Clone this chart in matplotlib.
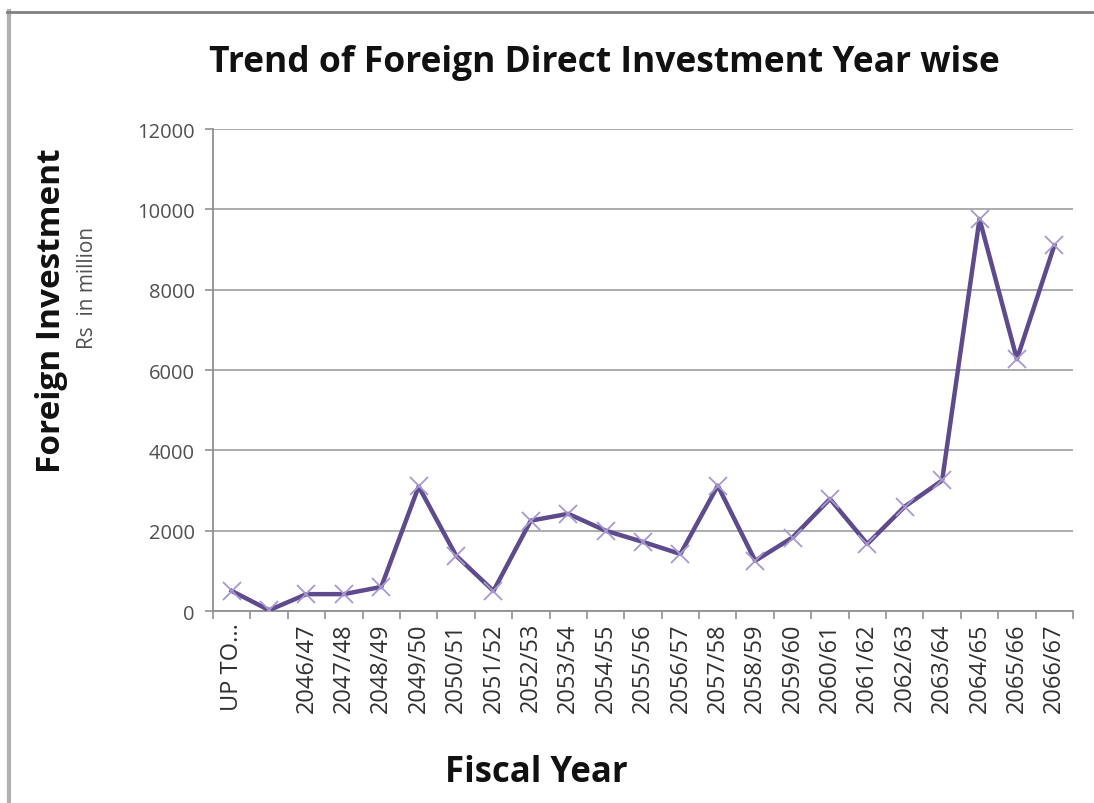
import matplotlib.pyplot as plt
from matplotlib.lines import Line2D

# Fiscal years and FDI (Rs in million)
fiscal_years = ["UP TO...", "", "2046/47", "2047/48", "2048/49", "2049/50",
                "2050/51", "2051/52", "2052/53", "2053/54", "2054/55",
                "2055/56", "2056/57", "2057/58", "2058/59", "2059/60",
                "2060/61", "2061/62", "2062/63", "2063/64", "2064/65",
                "2065/66", "2066/67"]
fdi_values = [500, 20, 420, 420, 600, 3100, 1380, 500, 2250, 2420, 2000,
              1720, 1420, 3120, 1250, 1830, 2790, 1670, 2600, 3250, 9760,
              6270, 9100]
y_ticks = [0, 2000, 4000, 6000, 8000, 10000, 12000]

fig = plt.figure(figsize=(10.94, 8.04), dpi=100)
ax = fig.add_axes([0.1947, 0.2388, 0.7861, 0.5995])

x = list(range(len(fiscal_years)))
ax.plot(x, fdi_values, color="#5e4a8c", linewidth=3.2, zorder=3)
ax.plot(x, fdi_values, linestyle="none", marker="x", markersize=13,
        markeredgewidth=1.3, color="#a898d0", zorder=4)

ax.set_xlim(-0.5, len(fiscal_years) - 0.5)
ax.set_ylim(0, 12000)
ax.set_yticks(y_ticks)
ax.set_yticklabels([str(v) for v in y_ticks], fontsize=14.5, color="#505050",
                   family="Open Sans")
ax.yaxis.grid(True, color="#a6a6a6", linewidth=1.3)
ax.set_axisbelow(True)

# category labels in the middle, tick marks between categories
ax.set_xticks([i - 0.5 for i in range(len(fiscal_years) + 1)])
ax.set_xticklabels([])
ax.set_xticks(x, minor=True)
ax.set_xticklabels(fiscal_years, minor=True, rotation=90, fontsize=17,
                   color="#303030", family="Open Sans")
ax.tick_params(axis="x", which="major", length=6, color="#909090", width=1.2)
ax.tick_params(axis="x", which="minor", length=0, pad=8)
ax.tick_params(axis="y", length=6, color="#909090", width=1.2, pad=7)

for side in ["top", "right"]:
    ax.spines[side].set_visible(False)
for side in ["left", "bottom"]:
    ax.spines[side].set_color("#909090")
    ax.spines[side].set_linewidth(1.3)

fig.text(0.552, 0.922, "Trend of Foreign Direct Investment Year wise",
         ha="center", va="center", fontsize=25.5, fontweight="bold",
         fontstretch="condensed", family="Open Sans", color="#111111")
fig.text(0.047, 0.614, "Foreign Investment", rotation=90, ha="center",
         va="center", fontsize=24, fontweight="bold",
         fontstretch="condensed", family="Open Sans", color="#111111")
fig.text(0.080, 0.642, "Rs  in million", rotation=90, ha="center",
         va="center", fontsize=15, color="#505050", family="Open Sans")
fig.text(0.49, 0.038, "Fiscal Year", ha="center", va="center",
         fontsize=25, fontweight="bold", family="Open Sans", color="#111111")

# frame around the chart area
fig.add_artist(Line2D([0.008, 0.008], [0.0, 0.985], color="#b0b0b0",
                      linewidth=3, transform=fig.transFigure))
fig.add_artist(Line2D([0.006, 1.0], [0.984, 0.984], color="#808080",
                      linewidth=2, transform=fig.transFigure))

fig.savefig("out.png", dpi=100, facecolor="white")
